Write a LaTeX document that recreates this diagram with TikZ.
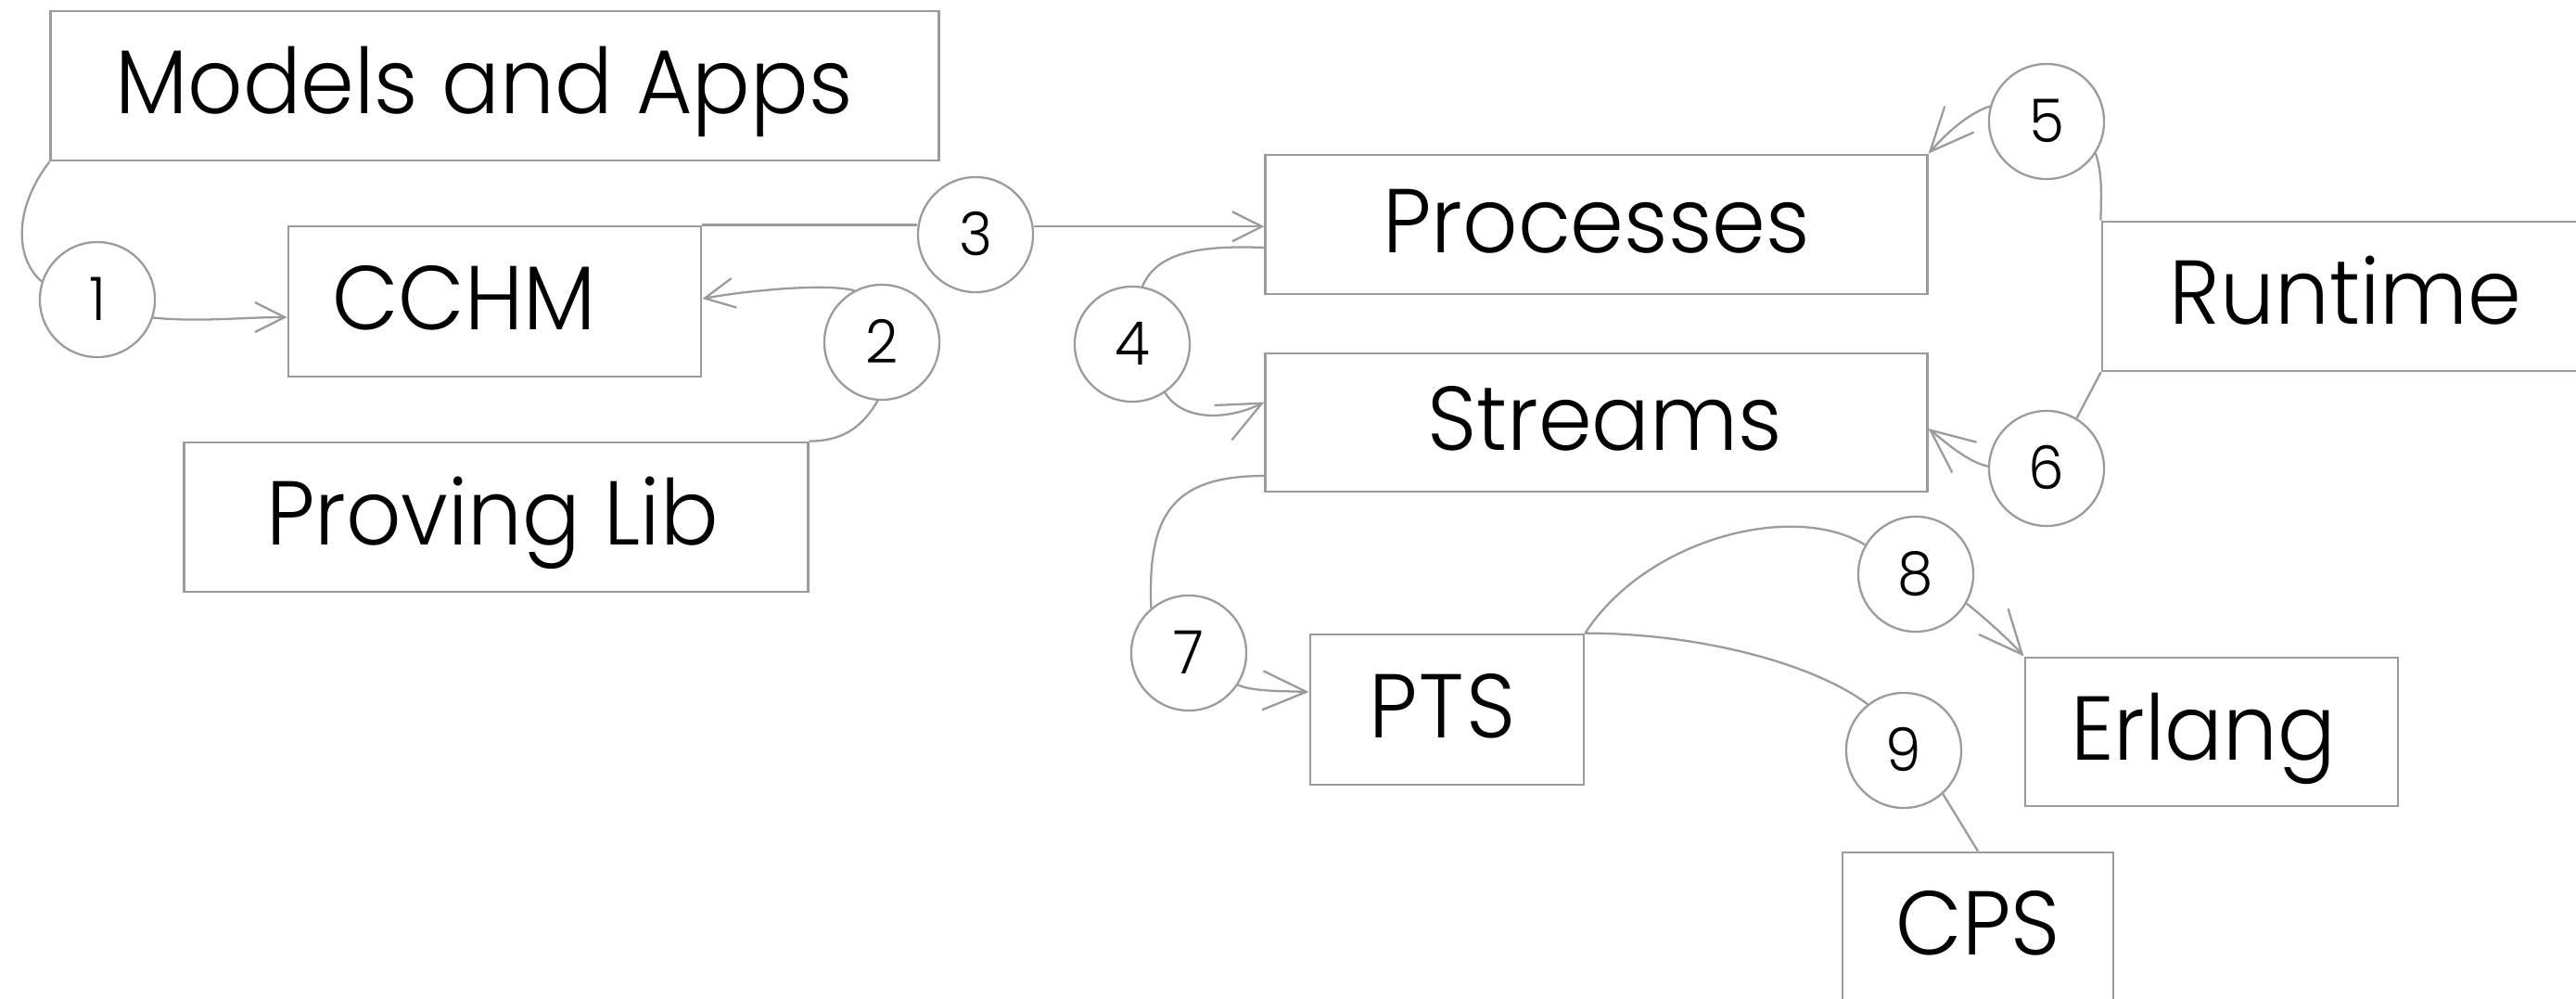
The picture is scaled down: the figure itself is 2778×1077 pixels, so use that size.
\documentclass[tikz,border=0pt]{standalone}
\usepackage{fontspec}
\setmainfont{Poppins Light}[FakeStretch=0.95]
\usetikzlibrary{arrows.meta}
\definecolor{edgegray}{HTML}{9B9B9B}

\begin{document}
\begin{tikzpicture}[x=0.01cm, y=-0.01cm,
  box/.style={draw=edgegray, line width=0.75pt, inner sep=0pt,
    text height=0.68cm, text depth=0.08cm, font=\fontsize{27.8}{30}\selectfont},
  num/.style={draw=edgegray, line width=0.65pt, circle, minimum size=1.24cm,
    inner sep=0pt, text height=0.45cm, text depth=0pt, font=\fontsize{18.4}{20}\selectfont},
  link/.style={draw=edgegray, line width=0.65pt},
  tipS/.style={-{Straight Barb[length=0.32cm,width=0.32cm]}},
  tipL/.style={-{Straight Barb[length=0.47cm,width=0.42cm]}},
]
\useasboundingbox (0,0) rectangle (2778,1077);

% components
\node[box, minimum width=9.57cm, minimum height=1.61cm] (mapps) at (533.5,92.5) {Models and Apps\hspace*{0.23cm}};
\node[box, minimum width=4.45cm, minimum height=1.62cm] (cchm) at (533.5,325) {CCHM\hspace*{0.66cm}};
\node[box, minimum width=6.72cm, minimum height=1.61cm] (plib) at (535,557.5) {Proving Lib\hspace*{0.08cm}};
\node[box, minimum width=7.13cm, minimum height=1.50cm] (proc) at (1721.5,242) {Processes};
\node[box, minimum width=7.13cm, minimum height=1.49cm] (strm) at (1721.5,455.5) {\hspace*{0.18cm}Streams};
\node[box, minimum width=5.25cm, minimum height=1.61cm] (runt) at (2529.5,319.5) {Runtime};
\node[box, minimum width=2.95cm, minimum height=1.62cm] (pts) at (1560.5,765) {P\kern0.02cm T\kern0.02cm S\hspace*{0.1cm}};
\node[box, minimum width=4.02cm, minimum height=1.60cm] (erl) at (2385,789) {Erlang\hspace*{0.18cm}};
\node[box, minimum width=2.92cm, minimum height=1.61cm] (cps) at (2133,999.5) {CPS};

% numbered steps
\node[num] (c1) at (105,323) {1};
\node[num] (c2) at (951,369) {2};
\node[num] (c3) at (1052,253) {3};
\node[num] (c4) at (1221,371) {4};
\node[num] (c5) at (2207,131) {5};
\node[num] (c6) at (2207,505) {6};
\node[num] (c7) at (1282,704) {7};
\node[num] (c8) at (2066,619) {8};
\node[num] (c9) at (2053,809) {9};

% step 1
\draw[link] (mapps.south west) .. controls +(-40,52) and +(-28,-24) .. (c1.162);
\draw[link,tipS] (c1.-18) .. controls +(50,5) and +(-50,0) .. ([yshift=-0.17cm]cchm.west);
% step 2
\draw[link] (plib.north east) .. controls +(40,0) and +(-15,25) .. (c2.-94);
\draw[link,tipS] (c2.118) .. controls +(-30,-8) and +(50,-9) .. ([yshift=0.03cm]cchm.east);
% step 3
\draw[link] (cchm.north east) -- (cchm.north east -| c3.west);
\draw[link,tipS] (c3.8) -- (c3.8 -| proc.west);
% step 4
\draw[link] ([yshift=-0.25cm]proc.west) .. controls +(-75,-3) and +(15,-35) .. (c4.80);
\draw[link,tipL] (c4.-56) .. controls +(20,32) and +(-38,19) .. ([yshift=0.22cm]strm.west);
% step 5
\draw[link] (c5.-33) .. controls +(8,25) and +(0,-25) .. (runt.north west);
\draw[link,tipL] (c5.165) .. controls +(-25,8) and +(18,-20) .. (proc.north east);
% step 6
\draw[link] (runt.south west) -- (c6.59);
\draw[link,tipL] (c6.178) .. controls +(-22,-5) and +(20,16) .. ([yshift=-0.065cm]strm.east);
% step 7
\draw[link] ([yshift=-0.575cm]strm.west) .. controls +(-100,0) and +(-4,-100) .. (c7.130);
\draw[link,tipL] (c7.-33) .. controls +(15,7) and +(-30,-1) .. ([yshift=0.19cm]pts.west);
% step 8
\draw[link] (pts.north east) .. controls +(67,-103) and +(-76,-47) .. (c8.150);
\draw[link,tipL] (c8.-30) .. controls +(18,14) and +(-14,-16) .. (erl.north west);
% step 9
\draw[link] (pts.north east) .. controls +(120,0) and +(-60,-45) .. (c9.128);
\draw[link] (c9.-48) -- (cps.north);
\end{tikzpicture}
\end{document}
